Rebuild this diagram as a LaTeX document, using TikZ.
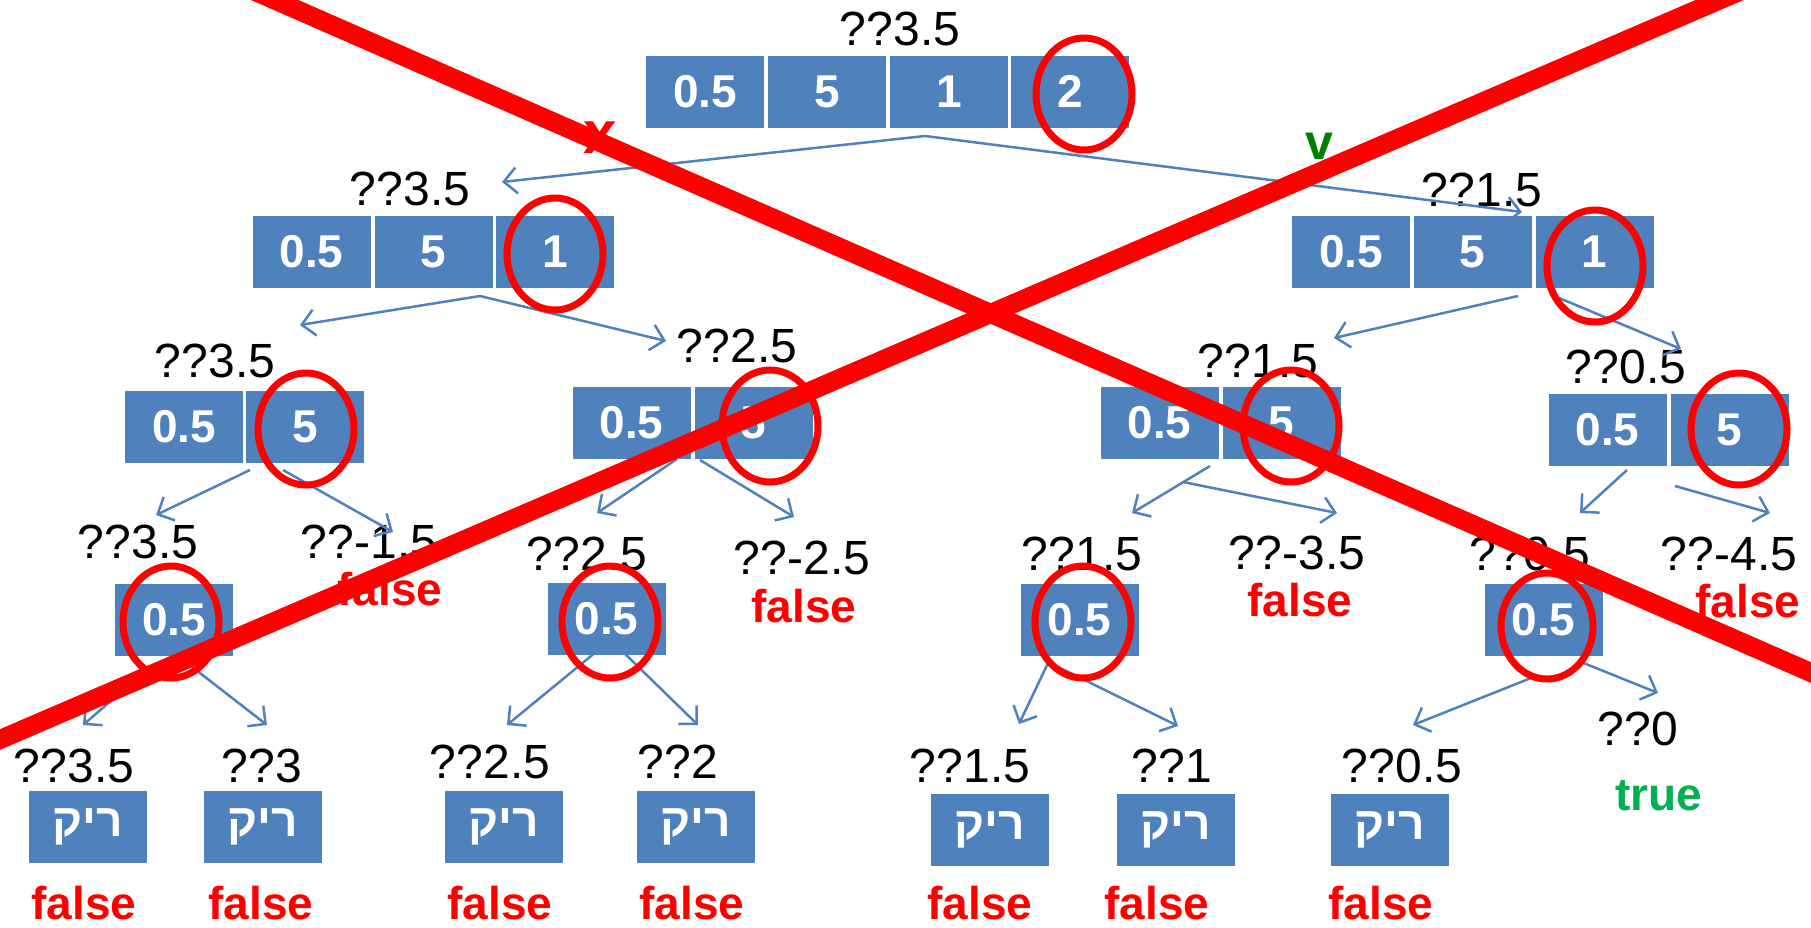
\documentclass[tikz,border=0pt]{standalone}
\usepackage{fontspec}
\setmainfont{Liberation Sans}
\newfontfamily\hebfont[Script=Hebrew]{Liberation Sans}
\TeXXeTstate=1
\usetikzlibrary{arrows.meta}
\definecolor{cellblue}{HTML}{4F81BD}
\definecolor{xred}{HTML}{FF0000}
\definecolor{vgreen}{HTML}{008000}
\definecolor{tgreen}{HTML}{00B050}
\tikzset{
  cell/.style={fill=cellblue, text=white, font=\fontsize{46}{50}\selectfont\bfseries, minimum width=118pt, minimum height=72pt, inner sep=0pt},
  lbl/.style={anchor=base, inner sep=0pt, font=\fontsize{48}{52}\selectfont},
  fls/.style={anchor=base, inner sep=0pt, text=xred, font=\fontsize{46}{50}\selectfont\bfseries},
  tru/.style={anchor=base, inner sep=0pt, text=tgreen, font=\fontsize{46}{50}\selectfont\bfseries},
  ring/.style={draw=xred, line width=7pt},
  conn/.style={draw=cellblue, line width=2.5pt, -{Straight Barb[length=13pt, width=26pt, line width=2.5pt]}},
  bigx/.style={draw=xred, line width=19pt}
}
\newcommand{\heb}{{\hebfont\beginR ריק\endR}}
\begin{document}
\begin{tikzpicture}[x=1pt, y=-1pt]
\useasboundingbox (0,0) rectangle (1811,927);
% ---------- top array
\node[lbl] (Lt) at (900,45) {??3.5};
\node[cell] (t1) at (705,91.5) {0.5};
\node[cell] (t2) at (827,91.5) {5};
\node[cell] (t3) at (949,91.5) {1};
\node[cell] (t4) at (1070,91.5) {2};
% ---------- level 2
\node[lbl] (Ll) at (410,205) {??3.5};
\node[cell] (l1) at (311.5,251.5) {0.5};
\node[cell] (l2) at (433.5,251.5) {5};
\node[cell] (l3) at (555,251.5) {1};
\node[lbl] (Lr) at (1482,206) {??1.5};
\node[cell] (r1) at (1351,251.5) {0.5};
\node[cell] (r2) at (1472.5,251.5) {5};
\node[cell] (r3) at (1594.5,251.5) {1};
% ---------- level 3
\node[lbl] (La) at (215,377) {??3.5};
\node[cell] (a1) at (184,427) {0.5};
\node[cell] (a2) at (305,427) {5};
\node[lbl] (Lb) at (737,362) {??2.5};
\node[cell] (b1) at (631.5,423) {0.5};
\node[cell] (b2) at (753.5,423) {5};
\node[lbl] (Lc) at (1258,377) {??1.5};
\node[cell] (c1) at (1159.5,423) {0.5};
\node[cell] (c2) at (1281.5,423) {5};
\node[lbl] (Ld) at (1626,383) {??0.5};
\node[cell] (d1) at (1607.5,429.5) {0.5};
\node[cell] (d2) at (1729.5,429.5) {5};
% ---------- level 4
\node[lbl] (Le) at (138,558) {??3.5};
\node[cell] (e) at (174,619.5) {0.5};
\node[lbl] (Lam) at (369,558) {??-1.5};
\node[fls] (Fam) at (390,605) {false};
\node[lbl] (Lf) at (587,570) {??2.5};
\node[cell] (f) at (606.5,619) {0.5};
\node[lbl] (Lbm) at (802,574) {??-2.5};
\node[fls] (Fbm) at (804,622) {false};
\node[lbl] (Lg) at (1082,570) {??1.5};
\node[cell] (g) at (1079.5,619.5) {0.5};
\node[lbl] (Lcm) at (1297,569) {??-3.5};
\node[fls] (Fcm) at (1300,616) {false};
\node[lbl] (Lh) at (1530,570) {??0.5};
\node[cell] (h) at (1543.5,619.5) {0.5};
\node[lbl] (Ldm) at (1729,570) {??-4.5};
\node[fls] (Fdm) at (1748,617) {false};
% ---------- level 5
\node[lbl] (L1) at (74,782) {??3.5};
\node[cell] (z1) at (88,827) {\heb};
\node[fls] (F1) at (84,919) {false};
\node[lbl] (L2) at (262,782) {??3};
\node[cell] (z2) at (263,827) {\heb};
\node[fls] (F2) at (261,919) {false};
\node[lbl] (L3) at (490,778) {??2.5};
\node[cell] (z3) at (504,827) {\heb};
\node[fls] (F3) at (500,919) {false};
\node[lbl] (L4) at (678,778) {??2};
\node[cell] (z4) at (696,827) {\heb};
\node[fls] (F4) at (692,919) {false};
\node[lbl] (L5) at (970,782) {??1.5};
\node[cell] (z5) at (990,830) {\heb};
\node[fls] (F5) at (980,919) {false};
\node[lbl] (L6) at (1172,782) {??1};
\node[cell] (z6) at (1176,830) {\heb};
\node[fls] (F6) at (1157,919) {false};
\node[lbl] (L7) at (1402,782) {??0.5};
\node[cell] (z7) at (1390,830) {\heb};
\node[fls] (F7) at (1381,919) {false};
\node[lbl] (L8) at (1638,745) {??0};
\node[tru] (T8) at (1659,810) {true};
% ---------- x / v marks
\node[anchor=center, inner sep=0pt, text=xred, font=\fontsize{60}{64}\selectfont\bfseries] (mx) at (600,138) {x};
\node[anchor=center, inner sep=0pt, text=vgreen, font=\fontsize{50}{54}\selectfont\bfseries] (mv) at (1319,146) {v};
% ---------- connectors
\coordinate (tS) at (925,136); \coordinate (tL) at (502,182); \coordinate (tR) at (1522,212);
\coordinate (lS) at (480,296); \coordinate (lL) at (300,325); \coordinate (lR) at (666,341);
\coordinate (rSa) at (1518,296); \coordinate (rL) at (1334,338);
\coordinate (rSb) at (1559,298); \coordinate (rR) at (1681,349);
\coordinate (aSa) at (250,470); \coordinate (aL) at (156,515);
\coordinate (aSb) at (283,470); \coordinate (aR) at (393,532);
\coordinate (bSa) at (677,459); \coordinate (bL) at (597,513);
\coordinate (bSb) at (700,460); \coordinate (bR) at (794,517);
\coordinate (cSa) at (1210,466); \coordinate (cL) at (1132,513);
\coordinate (cSb) at (1183,482); \coordinate (cR) at (1337,513);
\coordinate (dSa) at (1627,470); \coordinate (dL) at (1580,513);
\coordinate (dSb) at (1675,486); \coordinate (dR) at (1770,513);
\coordinate (eSa) at (127,687); \coordinate (eL) at (83,725);
\coordinate (eSb) at (187,663); \coordinate (eR) at (267,725);
\coordinate (fSa) at (602,647); \coordinate (fL) at (507,725);
\coordinate (fSb) at (618,647); \coordinate (fR) at (698,725);
\coordinate (gSa) at (1048,663); \coordinate (gL) at (1019,724);
\coordinate (gSb) at (1050,663); \coordinate (gR) at (1178,726);
\coordinate (hSa) at (1531,678); \coordinate (hL) at (1413,725);
\coordinate (hSb) at (1581,662); \coordinate (hR) at (1658,693);
\draw[conn] (tS) -- (tL); \draw[conn] (tS) -- (tR);
\draw[conn] (lS) -- (lL); \draw[conn] (lS) -- (lR);
\draw[conn] (rSa) -- (rL); \draw[conn] (rSb) -- (rR);
\draw[conn] (aSa) -- (aL); \draw[conn] (aSb) -- (aR);
\draw[conn] (bSa) -- (bL); \draw[conn] (bSb) -- (bR);
\draw[conn] (cSa) -- (cL); \draw[conn] (cSb) -- (cR);
\draw[conn] (dSa) -- (dL); \draw[conn] (dSb) -- (dR);
\draw[conn] (eSa) -- (eL); \draw[conn] (eSb) -- (eR);
\draw[conn] (fSa) -- (fL); \draw[conn] (fSb) -- (fR);
\draw[conn] (gSa) -- (gL); \draw[conn] (gSb) -- (gR);
\draw[conn] (hSa) -- (hL); \draw[conn] (hSb) -- (hR);
% ---------- red rings
\draw[ring] (1084,94) ellipse [x radius=48pt, y radius=56pt];
\draw[ring] (555,254) ellipse [x radius=48pt, y radius=56pt];
\draw[ring] (1595,266) ellipse [x radius=48pt, y radius=56pt];
\draw[ring] (306,429) ellipse [x radius=48pt, y radius=56pt];
\draw[ring] (770,426) ellipse [x radius=48pt, y radius=56pt];
\draw[ring] (1291,426) ellipse [x radius=48pt, y radius=56pt];
\draw[ring] (1739,429) ellipse [x radius=48pt, y radius=56pt];
\draw[ring] (171,622) ellipse [x radius=48pt, y radius=56pt];
\draw[ring] (610,622) ellipse [x radius=48pt, y radius=56pt];
\draw[ring] (1083,622) ellipse [x radius=48pt, y radius=56pt];
\draw[ring] (1547,626) ellipse [x radius=46pt, y radius=53pt];
% ---------- big red X
\begin{scope}
\clip (0,0) rectangle (1811,927);
\coordinate (xa1) at (229,-20); \coordinate (xa2) at (1860,694);
\coordinate (xb1) at (1766,-20); \coordinate (xb2) at (-50,761);
\draw[bigx] (xa1) -- (xa2);
\draw[bigx] (xb1) -- (xb2);
\end{scope}
\end{tikzpicture}
\end{document}
